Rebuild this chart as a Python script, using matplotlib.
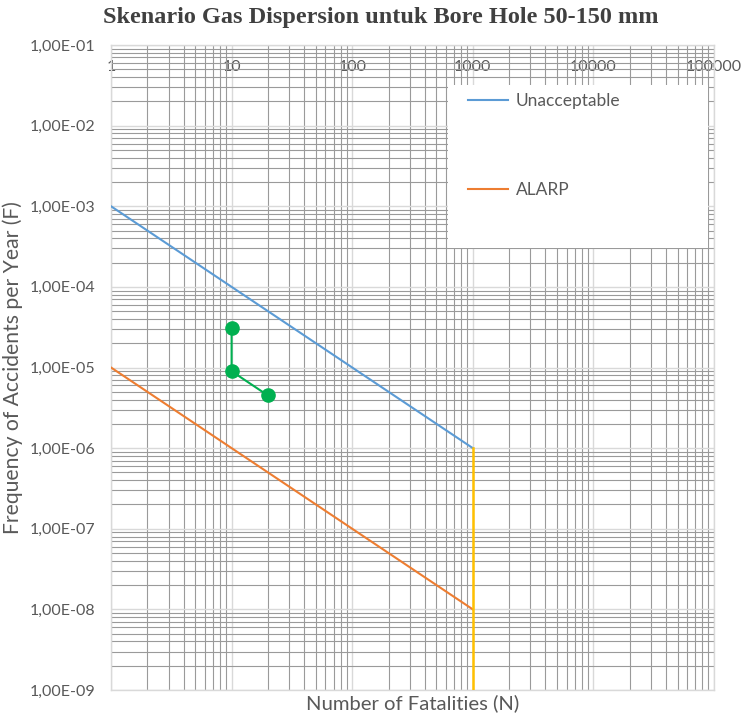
import numpy as np
import matplotlib
matplotlib.use("Agg")
import matplotlib.pyplot as plt
from matplotlib.ticker import LogLocator, FuncFormatter, NullFormatter
from matplotlib.patches import Rectangle

# ---- data ----
unacc_N = [1, 1000]
unacc_F = [1e-3, 1e-6]
alarp_N = [1, 1000]
alarp_F = [1e-5, 1e-8]
limit_N = [1000, 1000]
limit_F = [1e-6, 1e-9]
scen_N = [10, 10, 20]
scen_F = [3.1e-5, 9e-6, 4.5e-6]
x_ticks = [1, 10, 100, 1000, 10000, 100000]
x_tick_labels = ["1", "10", "100", "1000", "10000", "100000"]
y_ticks = [1e-9, 1e-8, 1e-7, 1e-6, 1e-5, 1e-4, 1e-3, 1e-2, 1e-1]
y_tick_labels = ["1,00E-09", "1,00E-08", "1,00E-07", "1,00E-06", "1,00E-05",
                 "1,00E-04", "1,00E-03", "1,00E-02", "1,00E-01"]

title = "Skenario Gas Dispersion untuk Bore Hole 50-150 mm"
TXT = "#595959"
plt.rcParams['font.family'] = ['Lato', 'DejaVu Sans']

fig = plt.figure(figsize=(7.45, 7.18), dpi=100)
ax = fig.add_axes([111/745, 28/718, 603/745, 645/718])
ax.set_xscale('log')
ax.set_yscale('log')

ax.plot(unacc_N, unacc_F, color='#5b9bd5', lw=1.5, label='Unacceptable', zorder=3)
ax.plot(alarp_N, alarp_F, color='#ed7d31', lw=1.5, label='ALARP', zorder=3)
ax.plot(limit_N, limit_F, color='#ffc000', lw=1.8, zorder=3)
ax.plot(scen_N, scen_F, color='#00b050', lw=1.5, marker='o', ms=9.5, zorder=4)

# grid
for a in (ax.xaxis, ax.yaxis):
    a.set_minor_locator(LogLocator(base=10, subs=np.arange(2, 10), numticks=100))
    a.set_minor_formatter(NullFormatter())
ax.set_xticks(x_ticks)
ax.set_xticklabels(x_tick_labels)
ax.set_yticks(y_ticks)
ax.set_yticklabels(y_tick_labels)
ax.set_xlim(x_ticks[0], x_ticks[-1])
ax.set_ylim(y_ticks[0], y_ticks[-1])

ax.grid(True, which='major', color='#d9d9d9', lw=1.0, zorder=0)
ax.grid(True, which='minor', color='#9a9a9a', lw=0.8, zorder=0)
ax.set_axisbelow(True)

ax.tick_params(axis='x', which='both', top=False, bottom=False, labeltop=True,
               labelbottom=False, length=0, pad=-21, labelsize=11.5, labelcolor=TXT)
ax.tick_params(axis='y', which='both', left=False, right=False, length=0, pad=11,
               labelsize=11.5, labelcolor=TXT)
ax.tick_params(axis='both', which='minor', labelleft=False, labeltop=False,
               labelbottom=False, labelright=False)

for s in ax.spines.values():
    s.set_color('#d9d9d9')
    s.set_linewidth(1.0)

ax.set_xlabel("Number of Fatalities (N)", fontsize=14.6, color=TXT, labelpad=3)
ax.set_ylabel("Frequency of Accidents per Year (F)", fontsize=15.2, color=TXT, labelpad=5)

# legend background box
ax.add_patch(Rectangle((0.559, 0.685), 0.431, 0.253, transform=ax.transAxes,
                       facecolor='white', edgecolor='none', zorder=2))
ax.legend(loc='upper left', bbox_to_anchor=(0.592, 0.926), frameon=False,
          borderpad=0, borderaxespad=0, handlelength=2.3, handletextpad=0.45,
          labelspacing=4.2, fontsize=12.5, labelcolor=TXT)

fig.text(381/745, 1 - 18/718, title, ha='center', va='center', fontsize=17.5,
         fontweight='bold', family=['Liberation Serif', 'DejaVu Serif'], color='#404040')

fig.savefig("out.png", dpi=100)
